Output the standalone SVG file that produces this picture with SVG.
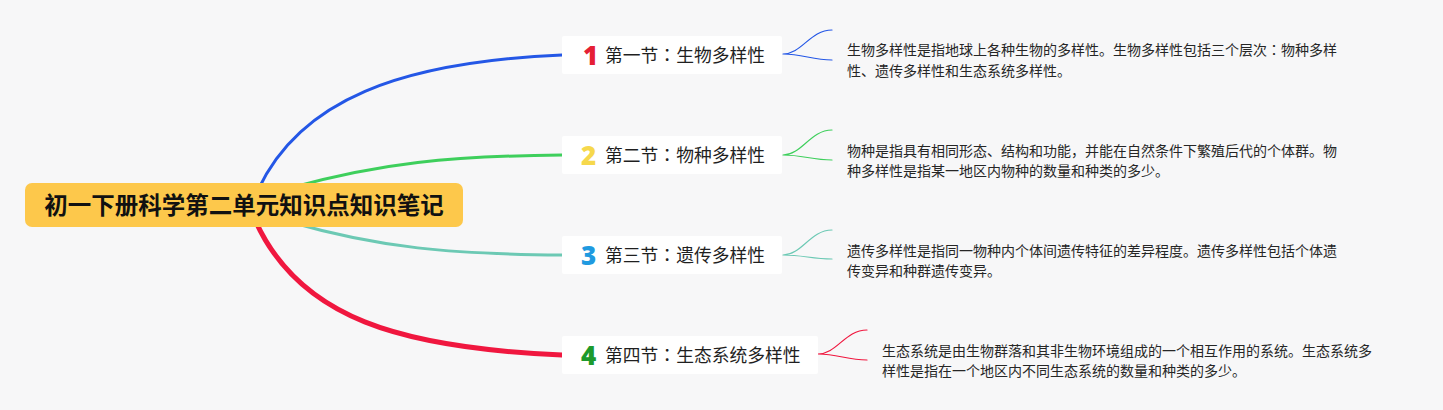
<svg xmlns="http://www.w3.org/2000/svg" width="1443" height="410" viewBox="0 0 1443 410">
<style>
.bg{fill:#f7f7f8}
.conn{fill:none;stroke-linecap:round}
.node{fill:#ffffff}
.lbl{font-family:"Noto Sans CJK SC","Noto Sans",sans-serif;font-size:17.8px;fill:#1f1f1f}
.num{font-family:"Noto Sans","Liberation Sans",sans-serif;font-size:26px;font-weight:900}
.desc{font-family:"Noto Sans CJK SC","Noto Sans",sans-serif;font-size:14px;fill:#262626}
.root{font-family:"Noto Sans CJK SC","Noto Sans",sans-serif;font-size:23.5px;font-weight:bold;fill:#111111}
.col{font-family:"Noto Sans CJK TC","Noto Sans CJK SC",sans-serif}
</style>
<rect class="bg" x="0" y="0" width="1443" height="410"/>
<g id="connectors">
<path class="conn" stroke="#2457e6" stroke-width="3" d="M258 190 C300 100 400 62 562 55"/>
<path class="conn" stroke="#3ecf5c" stroke-width="3" d="M290 188 C380 163 450 156 562 155"/>
<path class="conn" stroke="#6cc9b4" stroke-width="3" d="M290 222 C380 248 450 254 562 255"/>
<path class="conn" stroke="#f0173f" stroke-width="5" d="M256 222 C300 318 400 348 562 355"/>
<path class="conn" stroke="#2457e6" stroke-width="1.2" d="M783 54 C802 54 810 30 832 30 M783 54 C803 54 812 60 832 60"/>
<path class="conn" stroke="#3ecf5c" stroke-width="1.2" d="M783 155 C802 155 810 130 832 130 M783 155 C803 155 812 160 832 160"/>
<path class="conn" stroke="#6cc9b4" stroke-width="1.2" d="M783 255 C802 255 810 230 832 230 M783 255 C803 255 812 259 832 259"/>
<path class="conn" stroke="#f0173f" stroke-width="1.2" d="M818 354 C837 354 845 330 867 330 M818 354 C838 354 847 360 867 360"/>
</g>
<g id="root">
<rect x="25" y="183" width="438" height="44" rx="7" fill="#fdc84b"/>
<text class="root" x="244" y="214" text-anchor="middle">初一下册科学第二单元知识点知识笔记</text>
</g>
<g id="node1">
<rect class="node" x="562" y="36" width="220" height="38" rx="2"/>
<text class="num" x="583" y="65" fill="#e51f35">1</text>
<text class="lbl" x="605" y="61.5">第一节<tspan class="col">：</tspan>生物多样性</text>
</g>
<g id="node2">
<rect class="node" x="562" y="136" width="220" height="38" rx="2"/>
<text class="num" x="581" y="165" fill="#f6d84c">2</text>
<text class="lbl" x="605" y="161.5">第二节<tspan class="col">：</tspan>物种多样性</text>
</g>
<g id="node3">
<rect class="node" x="562" y="236" width="220" height="38" rx="2"/>
<text class="num" x="581" y="265" fill="#1f9ae0">3</text>
<text class="lbl" x="605" y="261.5">第三节<tspan class="col">：</tspan>遗传多样性</text>
</g>
<g id="node4">
<rect class="node" x="562" y="336" width="256" height="38" rx="2"/>
<text class="num" x="581" y="365" fill="#1d9a2c">4</text>
<text class="lbl" x="605" y="361.5">第四节<tspan class="col">：</tspan>生态系统多样性</text>
</g>
<g id="desc1">
<text class="desc" x="847" y="55">生物多样性是指地球上各种生物的多样性。生物多样性包括三个层次<tspan class="col">：</tspan>物种多样</text>
<text class="desc" x="847" y="76">性、遗传多样性和生态系统多样性。</text>
</g>
<g id="desc2">
<text class="desc" x="847" y="156">物种是指具有相同形态、结构和功能，并能在自然条件下繁殖后代的个体群。物</text>
<text class="desc" x="847" y="176">种多样性是指某一地区内物种的数量和种类的多少。</text>
</g>
<g id="desc3">
<text class="desc" x="847" y="256">遗传多样性是指同一物种内个体间遗传特征的差异程度。遗传多样性包括个体遗</text>
<text class="desc" x="847" y="276">传变异和种群遗传变异。</text>
</g>
<g id="desc4">
<text class="desc" x="882" y="356">生态系统是由生物群落和其非生物环境组成的一个相互作用的系统。生态系统多</text>
<text class="desc" x="882" y="376">样性是指在一个地区内不同生态系统的数量和种类的多少。</text>
</g>
</svg>
